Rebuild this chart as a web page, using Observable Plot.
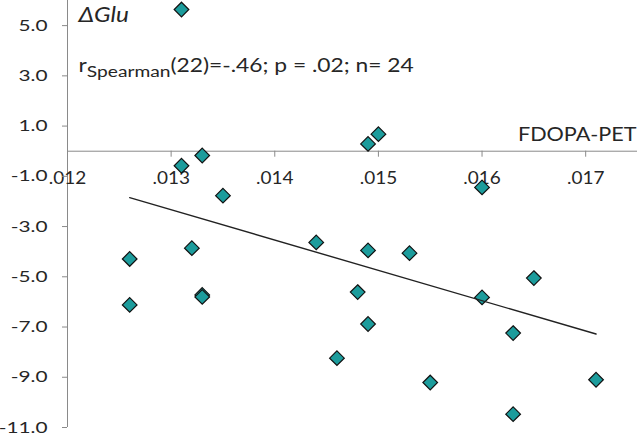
<!DOCTYPE html>
<html><head><meta charset="utf-8">
<script src="https://cdn.jsdelivr.net/npm/d3@7"></script>
<script src="https://cdn.jsdelivr.net/npm/@observablehq/plot@0.6"></script>
<style>body{margin:0;background:#fff}</style>
</head><body><div id="chart"></div>
<script>
const fdopa = [0.0131, 0.0131, 0.0133, 0.0135, 0.0149, 0.0150, 0.0160, 0.0126, 0.0126, 0.0132, 0.0133, 0.0133,
               0.0144, 0.0149, 0.0153, 0.0165, 0.0148, 0.0160, 0.0149, 0.0163, 0.0146, 0.0155, 0.0171, 0.0163];
const dGlu  = [5.64, -0.58, -0.17, -1.77, 0.29, 0.68, -1.44, -4.29, -6.12, -3.86, -5.72, -5.80,
               -3.63, -3.95, -4.06, -5.05, -5.61, -5.82, -6.88, -7.24, -8.24, -9.21, -9.10, -10.47];
const yTicks = [5, 3, 1, -1, -3, -5, -7, -9, -11];
const xTicks = [0.012, 0.013, 0.014, 0.015, 0.016, 0.017];
const xTitle = "FDOPA-PET";
const yTitle = "ΔGlu";
const statText = "(22)=-.46; p = .02; n= 24";

const data = fdopa.map((x, i) => ({x, y: dGlu[i]}));
const axisColor = "#8a8a8a";
const textColor = "#262626";

const chart = Plot.plot({
  width: 640, height: 436,
  marginLeft: 67, marginRight: 3, marginTop: 0, marginBottom: 9,
  style: {fontFamily: "Lato", background: "#fff", color: textColor},
  x: {domain: [0.012, 0.0175], axis: null},
  y: {domain: [-11, 6], axis: null},
  marks: [
    Plot.ruleY([0], {stroke: axisColor}),
    Plot.ruleX([0.012], {y1: -11, y2: 6, stroke: axisColor}),
    Plot.ruleX(xTicks, {x: d => d, y1: 0, y2: 0, insetBottom: -6, stroke: axisColor}),
    Plot.text(xTicks, {x: d => d, y: 0, text: d => d.toFixed(3).slice(1), dy: 28, fontSize: 16.5, fill: textColor}),
    Plot.axisY({ticks: yTicks, label: null, tickFormat: d => d.toFixed(1), tickSize: 5, tickPadding: 15, fontSize: 16, stroke: axisColor, fill: textColor}),
    Plot.dot(data, {x: "x", y: "y", symbol: "diamond2", r: 6.6, fill: "#1c9c9c", stroke: "#111", strokeWidth: 1.2}),
    Plot.linearRegressionY(data, {x: "x", y: "y", ci: 0, stroke: "#222", strokeWidth: 1.4}),
    Plot.text([xTitle], {x: () => 0.0175, y: () => 0, textAnchor: "end", lineAnchor: "bottom", dy: -10, dx: -1, fontSize: 20, fill: textColor}),
    Plot.text([yTitle], {frameAnchor: "top-left", lineAnchor: "top", dx: 11, dy: 7, fontSize: 21, fontStyle: "italic", fill: textColor}),
    Plot.text(["RSPEARMAN"], {frameAnchor: "top-left", lineAnchor: "top", dx: 11, dy: 58, fontSize: 19, fill: textColor})
  ]
});
document.getElementById("chart").appendChild(chart);

// the reference's lettering is horizontally stretched
function stretchText(t, s) {
  const tr = t.getAttribute("transform") || "";
  let x = parseFloat(t.getAttribute("x"));
  if (!isFinite(x) || /em/.test(t.getAttribute("x") || "")) x = 0;
  t.setAttribute("transform", `${tr} translate(${x},0) scale(${s},1) translate(${-x},0)`.trim());
}
chart.querySelectorAll("text").forEach(t => {
  const c = t.textContent;
  if (c === "RSPEARMAN") {
    t.textContent = "";
    const ns = "http://www.w3.org/2000/svg";
    t.appendChild(document.createTextNode("r"));
    const sub = document.createElementNS(ns, "tspan");
    sub.setAttribute("font-size", "16");
    sub.setAttribute("dy", "5");
    sub.textContent = "Spearman";
    t.appendChild(sub);
    const rest = document.createElementNS(ns, "tspan");
    rest.setAttribute("dy", "-5");
    rest.textContent = statText;
    t.appendChild(rest);
    stretchText(t, 1.2);
  } else if (/^\.\d{3}$/.test(c)) stretchText(t, 1.15);
  else if (/^-?\d+\.0$/.test(c)) stretchText(t, 1.3);
  else if (c === xTitle) stretchText(t, 1.08);
  else if (c === yTitle) stretchText(t, 1.16);
});
</script>
</body></html>
